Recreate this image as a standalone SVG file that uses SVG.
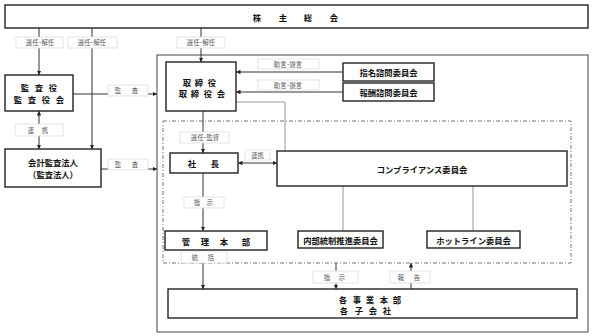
<svg xmlns="http://www.w3.org/2000/svg" width="592" height="336" viewBox="0 0 592 336">
<defs>
<marker id="ah" viewBox="0 0 6 6" refX="6" refY="3" markerWidth="4.5" markerHeight="4.5" orient="auto-start-reverse" markerUnits="userSpaceOnUse">
<path d="M0,0 L6,3 L0,6 Z" fill="#222"/>
</marker>
</defs>
<style>
.nd{fill:#fff;stroke:#222;stroke-width:1.4}
.fr{fill:none;stroke:#444;stroke-width:1}
.df{fill:none;stroke:#777;stroke-width:1;stroke-dasharray:4 2 1 2}
.t{font-family:"Noto Sans CJK JP","Noto Sans",sans-serif;font-weight:bold;font-size:8.3px;fill:#111;text-anchor:middle;dominant-baseline:central}
.lb{fill:#fff;stroke:#ddd;stroke-width:0.8}
.lt{font-family:"Noto Sans CJK JP","Noto Sans",sans-serif;font-size:6.3px;fill:#555;text-anchor:middle;dominant-baseline:central}
.c{fill:none;stroke:#333;stroke-width:1}
.g{fill:none;stroke:#999;stroke-width:1}
</style>
<rect width="592" height="336" fill="#fff"/>
<g id="frames">
<rect class="fr" x="157" y="55" width="431" height="277"/>
<rect class="df" x="163" y="121" width="408" height="142"/>
</g>
<g id="connectors">
<line class="c" x1="39" y1="28" x2="39" y2="75" marker-end="url(#ah)"/>
<line class="c" x1="92" y1="28" x2="92" y2="149" marker-end="url(#ah)"/>
<line class="c" x1="201" y1="28" x2="201" y2="62" marker-end="url(#ah)"/>
<line class="c" x1="39" y1="111" x2="39" y2="149" marker-start="url(#ah)" marker-end="url(#ah)"/>
<line class="c" x1="73" y1="94" x2="157" y2="94" marker-end="url(#ah)"/>
<line class="c" x1="101" y1="169" x2="157" y2="169" marker-end="url(#ah)"/>
<line class="c" x1="343" y1="72" x2="236" y2="72" marker-end="url(#ah)"/>
<line class="c" x1="343" y1="92" x2="236" y2="92" marker-end="url(#ah)"/>
<line class="c" x1="203" y1="111" x2="203" y2="153" marker-end="url(#ah)"/>
<polyline class="g" points="236,102 285,102 285,151"/>
<line class="c" x1="238" y1="163" x2="277" y2="163" marker-start="url(#ah)" marker-end="url(#ah)"/>
<line class="c" x1="203" y1="173" x2="203" y2="231" marker-end="url(#ah)"/>
<line class="c" x1="203" y1="250" x2="203" y2="289" marker-end="url(#ah)"/>
<line class="g" x1="343" y1="186" x2="343" y2="231"/>
<line class="g" x1="473" y1="186" x2="473" y2="231"/>
<line class="c" x1="336" y1="263" x2="336" y2="289" marker-end="url(#ah)"/>
<line class="c" x1="411" y1="289" x2="411" y2="263" marker-end="url(#ah)"/>
</g>
<g id="labels">
<rect class="lb" x="16" y="37" width="47" height="11"/><text class="lt" x="40" y="42.5">選任･解任</text>
<rect class="lb" x="68" y="37" width="49" height="11"/><text class="lt" x="92" y="42.5">選任･解任</text>
<rect class="lb" x="177" y="37" width="48" height="11"/><text class="lt" x="201" y="42.5">選任･解任</text>
<rect class="lb" x="258" y="59" width="61" height="10"/><text class="lt" x="288" y="64">助言･提言</text>
<rect class="lb" x="258" y="80" width="61" height="10"/><text class="lt" x="288" y="85">助言･提言</text>
<rect class="lb" x="108" y="85" width="40" height="11"/><text class="lt" x="118 135" y="90.5">監査</text>
<rect class="lb" x="108" y="159" width="40" height="11"/><text class="lt" x="118 135" y="164.5">監査</text>
<rect class="lb" x="15" y="124" width="48" height="12"/><text class="lt" x="31 45" y="130">連携</text>
<rect class="lb" x="180" y="132" width="49" height="11"/><text class="lt" x="205" y="137.5">選任･監督</text>
<rect class="lb" x="245" y="150" width="25" height="10"/><text class="lt" x="257.5" y="155">連携</text>
<rect class="lb" x="184" y="197" width="40" height="11"/><text class="lt" x="197 210" y="202.5">指示</text>
<rect class="lb" x="181" y="251" width="46" height="12"/><text class="lt" x="195 211" y="257">統括</text>
<rect class="lb" x="313" y="271" width="45" height="12"/><text class="lt" x="327 342" y="277">指示</text>
<rect class="lb" x="390" y="271" width="40" height="12"/><text class="lt" x="401 417" y="277">報告</text>
</g>
<g id="n-soukai"><rect class="nd" x="5" y="5" width="583" height="23"/><text class="t" x="257 283 308 334" y="17">株主総会</text></g>
<g id="n-kansayaku"><rect class="nd" x="5" y="75" width="68" height="36"/><text class="t" x="25 39 53" y="87">監査役</text><text class="t" x="18 32 46 60" y="99">監査役会</text></g>
<g id="n-kaikei"><rect class="nd" x="5" y="149" width="96" height="38"/><text class="t" x="53" y="162">会計監査法人</text><text class="t" x="53" y="174">（監査法人）</text></g>
<g id="n-torishimari"><rect class="nd" x="166" y="62" width="70" height="49"/><text class="t" x="187 199 212" y="82">取締役</text><text class="t" x="183 195 208 221" y="93">取締役会</text></g>
<g id="n-shimei"><rect class="nd" x="343" y="63" width="91" height="18"/><text class="t" x="388.5" y="72">指名諮問委員会</text></g>
<g id="n-houshu"><rect class="nd" x="343" y="83" width="91" height="18"/><text class="t" x="388.5" y="92">報酬諮問委員会</text></g>
<g id="n-shachou"><rect class="nd" x="170" y="153" width="68" height="20"/><text class="t" x="192 215" y="163">社長</text></g>
<g id="n-comp"><rect class="nd" x="277" y="151" width="290" height="35"/><text class="t" x="422" y="168.5">コンプライアンス委員会</text></g>
<g id="n-kanri"><rect class="nd" x="165" y="231" width="102" height="19"/><text class="t" x="186 205 224 246" y="240.5">管理本部</text></g>
<g id="n-naibu"><rect class="nd" x="298" y="231" width="85" height="17"/><text class="t" x="340.5" y="239.5">内部統制推進委員会</text></g>
<g id="n-hotline"><rect class="nd" x="427" y="231" width="93" height="17"/><text class="t" x="473.5" y="239.5">ホットライン委員会</text></g>
<g id="n-jigyou"><rect class="nd" x="168" y="289" width="409" height="29"/><text class="t" x="343 357 370 384 397" y="298.5">各事業本部</text><text class="t" x="344 359 373 387" y="309.5">各子会社</text></g>
</svg>
